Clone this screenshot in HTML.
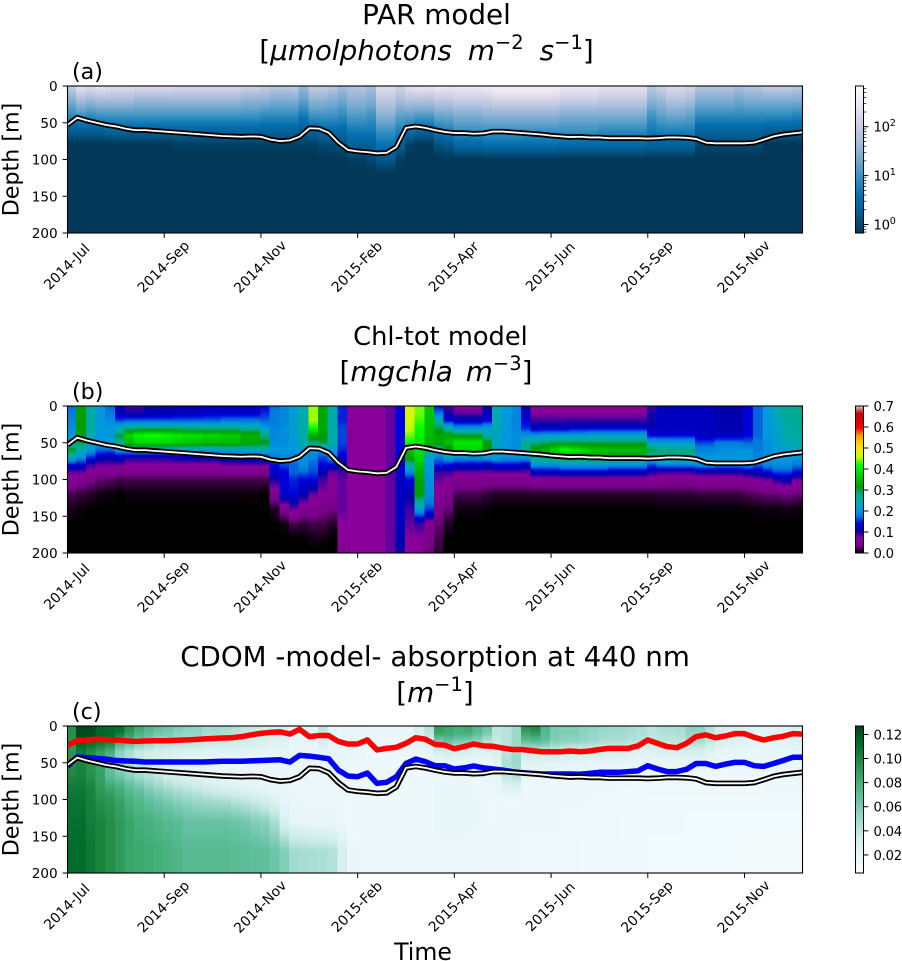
<!DOCTYPE html>
<html lang="en">
<head>
<meta charset="utf-8">
<title>PAR, Chl-tot and CDOM model depth sections</title>
<style>
html,body{margin:0;padding:0;background:#fff;}
svg{display:block;font-family:"DejaVu Sans","Liberation Sans",sans-serif;}
</style>
</head>
<body>
<svg id="figure" xmlns="http://www.w3.org/2000/svg" width="902" height="961" viewBox="0 0 902 961">
  <rect x="0" y="0" width="902" height="961" fill="#fff"/>
  <defs id="defs"></defs>
  <g id="layer-cells"></g>
  <g id="layer-lines"></g>
  <g id="layer-axes"></g>

  <text x="436.5" y="24" font-size="27.8" text-anchor="middle" fill="#000">PAR model</text>
  <text x="426.5" y="60" font-size="27.8" text-anchor="middle" fill="#000">[<tspan font-style="italic">μmolphotons</tspan><tspan dx="16" font-style="italic">m</tspan><tspan dy="-11" font-size="19.5">−2</tspan><tspan dx="16" dy="11" font-style="italic">s</tspan><tspan dy="-11" font-size="19.5">−1</tspan><tspan dy="11">]</tspan></text>
  <text x="440.5" y="345" font-size="25.7" text-anchor="middle" fill="#000">Chl-tot model</text>
  <text x="436" y="381" font-size="27.8" text-anchor="middle" fill="#000">[<tspan font-style="italic">mgchla</tspan><tspan dx="13" font-style="italic">m</tspan><tspan dy="-11" font-size="19.5">−3</tspan><tspan dy="11">]</tspan></text>
  <text x="435" y="666" font-size="27.7" text-anchor="middle" fill="#000">CDOM -model- absorption at 440 nm</text>
  <text x="435" y="702" font-size="27.8" text-anchor="middle" fill="#000">[<tspan font-style="italic">m</tspan><tspan dy="-11" font-size="19.5">−1</tspan><tspan dy="11">]</tspan></text>

  <text x="72" y="79" font-size="22.2" fill="#000">(a)</text>
  <text x="72" y="399" font-size="22.2" fill="#000">(b)</text>
  <text x="72" y="719" font-size="22.2" fill="#000">(c)</text>

  <text transform="translate(18.5 159.5) rotate(-90)" font-size="22.2" text-anchor="middle" fill="#000">Depth [m]</text>
  <text transform="translate(18.5 479.5) rotate(-90)" font-size="22.2" text-anchor="middle" fill="#000">Depth [m]</text>
  <text transform="translate(18.5 799.5) rotate(-90)" font-size="22.2" text-anchor="middle" fill="#000">Depth [m]</text>
  <text x="423" y="960" font-size="23.6" text-anchor="middle" fill="#000">Time</text>
</svg>

<script>
// ---------- axis data ----------
const timeTickIndex = [0, 10, 20, 30, 40, 50, 60, 70];
const timeTickLabels = ['2014-Jul', '2014-Sep', '2014-Nov', '2015-Feb', '2015-Apr', '2015-Jun', '2015-Sep', '2015-Nov'];
const depthTicks = [0, 50, 100, 150, 200];

// ---------- line series, depth in metres ----------
const mixedLayerDepth = [53,43,47,50,53,55,58,60,60,61,62,63,64,65,66,67,68,68.5,69,68.5,69,73,75,74,69,57.5,58,63.5,77,87,89,90,91.6,91,83,57,55,57,60,62.5,64,64,65,64.4,62,62,63,64,65,66,67.5,68.5,69.5,69,70,70,71,71,71,71,71.5,71,70,70,70.5,72,77,78,78,78,78,77,73,68.5,66,64.5,63];
const cdomBlueDepth = [55,42,43,44,45,47,47.6,48,49,49,49,49,49,49,49,48.5,48,48,48,47.5,47,46.5,46,49,40,41,42.6,44.5,60,68,69,64,78,76.6,69,51,45,48.5,54,54,58.5,57,54.4,57,58.5,60,62,63.5,64.5,65.3,65.3,65.3,65.3,65.7,64.5,63,63,63,62,61,54,58.5,62,62,59,51,51,55,52,49.5,49.5,54,55,51,47,42.6,42.6];
const cdomRedDepth = [26,20,19,18,18.6,19,20,21,20.4,20,20,19.5,19,18.6,17.7,17,16.3,16,14.5,12,10,8.6,8,11,4.5,14.5,13,13,21,24.5,24.5,19,32.6,30.4,29,23.6,16,18,25,26,31,28,24.5,27,27.6,30,32,32,33.5,35,35,35,34,35,34,32,30.4,30.4,30.4,27,19,23.6,28,29.5,23.6,14.5,12,16,13.6,10.4,10.4,15.4,19,16,14,10.4,11];

// ---------- PAR: log10(umol photons m-2 s-1) per time column ----------
const parDepthLevels = [0,20,40,60,80,100,120,200];
const parLog10 = [
[2,1.4,.9,.3,-.2,-.2,-.2,-.2],[2.4,1.7,1,.3,-.2,-.2,-.2,-.2],[2.3,1.6,.9,.3,-.2,-.2,-.2,-.2],[2.4,1.7,1,.3,-.2,-.2,-.2,-.2],
[2.3,1.7,1,.4,-.2,-.2,-.2,-.2],[2.3,1.7,1,.4,-.2,-.2,-.2,-.2],[2.3,1.7,1,.4,-.2,-.2,-.2,-.2],[2.25,1.6,1,.4,-.2,-.2,-.2,-.2],
[2.25,1.6,1,.4,-.2,-.2,-.2,-.2],[2.25,1.6,1,.4,-.2,-.2,-.2,-.2],[2.25,1.6,1,.4,-.2,-.2,-.2,-.2],[2.2,1.6,1,.4,-.1,-.2,-.2,-.2],
[2.2,1.6,1,.4,-.1,-.2,-.2,-.2],[2.2,1.6,1,.4,-.1,-.2,-.2,-.2],[2.2,1.6,1,.4,-.1,-.2,-.2,-.2],[2.2,1.6,1,.4,-.1,-.2,-.2,-.2],
[2.2,1.6,1,.4,-.1,-.2,-.2,-.2],[2.2,1.6,1,.4,-.1,-.2,-.2,-.2],[2.1,1.5,1,.4,-.1,-.2,-.2,-.2],[2.1,1.5,1,.4,-.1,-.2,-.2,-.2],
[2,1.5,.9,.4,-.1,-.2,-.2,-.2],[1.9,1.4,.9,.4,-.1,-.2,-.2,-.2],[1.9,1.4,.9,.4,-.1,-.2,-.2,-.2],[1.95,1.4,.9,.4,-.1,-.2,-.2,-.2],
[1.6,1.2,.7,.3,-.1,-.2,-.2,-.2],[2,1.5,1,.4,-.1,-.2,-.2,-.2],[2,1.5,1,.5,0,-.2,-.2,-.2],[1.9,1.4,1,.5,.05,-.2,-.2,-.2],
[1.7,1.3,.9,.5,.1,-.2,-.2,-.2],[1.85,1.5,1.1,.7,.3,-.1,-.2,-.2],[1.85,1.5,1.1,.7,.3,-.1,-.2,-.2],[1.7,1.4,1,.7,.3,0,-.2,-.2],
[2.3,1.9,1.5,1,.6,.2,-.2,-.2],[2.3,1.9,1.5,1,.6,.2,-.2,-.2],[2.1,1.7,1.2,.8,.3,-.1,-.2,-.2],[2.35,1.8,1.2,.6,-.1,-.2,-.2,-.2],
[2.45,1.8,1.1,.4,-.2,-.2,-.2,-.2],[2.4,1.8,1.1,.4,-.2,-.2,-.2,-.2],[2.5,1.9,1.3,.7,.1,-.2,-.2,-.2],[2.45,1.9,1.3,.8,.2,-.2,-.2,-.2],
[2.5,2,1.4,1,.45,-.2,-.2,-.2],[2.5,2,1.4,1,.45,-.2,-.2,-.2],[2.5,2,1.4,1,.45,-.2,-.2,-.2],[2.55,2,1.5,1,.55,-.2,-.2,-.2],
[2.65,2.1,1.5,1,.55,-.2,-.2,-.2],[2.65,2.1,1.5,1,.55,-.2,-.2,-.2],[2.65,2.1,1.5,1,.55,-.2,-.2,-.2],[2.65,2.1,1.5,1,.55,-.2,-.2,-.2],
[2.65,2.1,1.5,1,.55,-.2,-.2,-.2],[2.65,2.1,1.5,1,.55,-.2,-.2,-.2],[2.65,2.1,1.5,1,.55,-.2,-.2,-.2],[2.5,2,1.4,1,.45,-.2,-.2,-.2],
[2.5,2,1.4,1,.45,-.2,-.2,-.2],[2.5,2,1.4,1,.45,-.2,-.2,-.2],[2.5,2,1.4,1,.45,-.2,-.2,-.2],[2.4,1.9,1.4,.9,.45,-.2,-.2,-.2],
[2.4,1.9,1.4,.9,.45,-.2,-.2,-.2],[2.4,1.9,1.4,.9,.45,-.2,-.2,-.2],[2.4,1.9,1.4,.9,.45,-.2,-.2,-.2],[2.4,1.9,1.4,.9,.45,-.2,-.2,-.2],
[1.9,1.5,1,.7,.35,-.2,-.2,-.2],[2.1,1.6,1.2,.8,.35,-.2,-.2,-.2],[2.25,1.8,1.3,.8,.35,-.2,-.2,-.2],[2.25,1.8,1.3,.8,.35,-.2,-.2,-.2],
[2.15,1.7,1.2,.8,.35,-.2,-.2,-.2],[1.85,1.4,.9,.4,0,-.2,-.2,-.2],[1.85,1.4,.9,.4,0,-.2,-.2,-.2],[1.85,1.4,.9,.4,0,-.2,-.2,-.2],
[1.85,1.4,.9,.4,0,-.2,-.2,-.2],[1.75,1.3,.9,.4,0,-.2,-.2,-.2],[1.85,1.4,.9,.4,0,-.2,-.2,-.2],[1.85,1.4,.9,.4,0,-.2,-.2,-.2],
[2,1.4,.9,.3,-.2,-.2,-.2,-.2],[2,1.4,.9,.3,-.2,-.2,-.2,-.2],[2,1.4,.9,.3,-.2,-.2,-.2,-.2],[1.9,1.4,.8,.3,-.2,-.2,-.2,-.2]
];

// ---------- Chl-tot: hundredths of mg chla m-3 per time column ----------
const chlDepthLevels = [0,10,20,30,40,50,60,70,80,90,100,120,140,160,180,200];
const chlCenti = [
[17,18,19,20,21,25,31,24,14,8,6,2,.7,0,0,0],[32,32,32,32,32,30,24,20,13,8,5,1.5,.3,0,0,0],[25,25,25,25,24,23,21,15,9,6.5,4,1,0,0,0,0],[21,21,21,21,21,21,17,12,8,5.5,3,.5,0,0,0,0],
[17,18,20,21,21,21,17,11,8,5,2.5,.2,0,0,0,0],[11,12,16,24,30,27,20,12,8,4.5,2,0,0,0,0,0],[9,10,17,27,38,35,22,10,7,4.5,2,.3,0,0,0,0],[9,10,17,28,41,38,22,10,7,4.5,2,.3,0,0,0,0],
[10,11,17,28,42,38,22,10,7,4.5,2,.3,0,0,0,0],[10,11,17,28,42,38,22,10,7,4.5,2,.3,0,0,0,0],[10,11,17,28,41,38,22,10,7,4.5,2,.3,0,0,0,0],[11,12,17,28,40,37,22,11,7,4.5,2,.3,0,0,0,0],
[11,12,17,27,39,36,22,11,7,4.5,2,.3,0,0,0,0],[11,12,17,27,39,36,22,11,7,4.5,2,.3,0,0,0,0],[12,13,17,27,38,35,22,11,7,4.5,2,.3,0,0,0,0],[12,13,17,27,38,35,22,11,7,4.5,2,.3,0,0,0,0],
[12,13,18,27,37,35,23,12,8,4.5,2,.3,0,0,0,0],[12,13,18,27,37,35,23,12,8,4.5,2,.3,0,0,0,0],[12,13,18,26,34,33,24,13,8,4.5,2,.3,0,0,0,0],[12,13,18,26,34,33,24,13,8,4.5,2,.3,0,0,0,0],
[14,15,17,21,28,31,25,14,8,4.5,2,0,0,0,0,0],[17,18,18,19,19,20,21,18,14,12,10,5,1,0,0,0],[19,19,19,20,20,20,21,19,16,14,14,13,5,.5,0,0],[21,21,22,22,22,21,21,18,17,17,15,14,8,2,0,0],
[25,25,25,25,25,25,21,20,20,17,14,11,5.5,1.5,0,0],[45,45,45,42,34,28,21,18,17,16,14,8,5,2,.5,0],[33,33,33,33,32,30,20,16,14,11,9,7,4,2,.5,0],[25,25,25,25,25,25,21,19,14,8,7,5.5,3.5,1,0,0],
[15,15,15,16,16,16,15,13,11,9,8,8,8,7,7,5],[7,7,7,7,7,7,7,7,7,7,7,7,7,7,7,7],[7,7,7,7,7,7,7,7,7,7,7,7,7,7,7,7],[7,7,7,7,7,7,7,7,7,7,7,7,7,7,7,7],
[7,7,7,7,7,7,7,7,7,7,7,7,7,7,7,7],[8,8,8,8,8,8,8,8,8,8,8,8,8,8,8,8],[14,14,14,14,14,14,14,14,13,13,12,12,12,12,11,10],[48,48,47,46,44,42,36,33,26,19,14,11,9,8,7,7],
[44,44,43,42,41,40,39,38,36,34,33,32,22,9,7,6],[36,36,36,35,35,34,30,21,21,21,20,20,16,6,4,3],[14,18,25,30,33,33,25,18,15,9,8,6,4.5,3,2,1.5],[9,10,14,24,33,36,30,22,14,9,7,4.5,3,1,0,0],
[7,8,12,20,31,40,37,20,13,8,5.5,2,.4,0,0,0],[7,8,12,20,31,40,37,20,13,8,5.5,2,.4,0,0,0],[7,8,12,20,31,40,37,20,13,8,5.5,2,.4,0,0,0],[10,11,14,21,25,32,32,21,12,8,5,1.5,.2,0,0,0],
[24,24,24,24,23,23,22,21,14,8,5,1,0,0,0,0],[21,21,21,21,21,21,21,20,14,8,5,1,0,0,0,0],[19,19,19,19,20,20,20,20,14,8,5,1,0,0,0,0],[10,12,14,15,20,27,26,21,12,8,5,1,0,0,0,0],
[7,7,9,12,20,28,33,28,20,12,6,1,0,0,0,0],[7,7,9,12,21,29,34,29,20,12,6,1,0,0,0,0],[7,7,9,12,21,30,38,30,20,12,6,1,0,0,0,0],[7,7,9,12,21,30,42,32,21,13,6,1,0,0,0,0],
[7,7,9,13,21,30,40,32,21,13,6,1,0,0,0,0],[7,7,9,13,21,30,38,32,21,13,6,1,0,0,0,0],[7,7,9,13,22,30,36,33,21,13,6,1,0,0,0,0],[7,7,9,13,22,30,36,33,21,13,6,1,0,0,0,0],
[7,7,9,13,22,30,35,32,20,12,6,1,0,0,0,0],[7,7,9,13,22,30,35,32,20,12,6,1,0,0,0,0],[7,7,9,13,22,30,35,32,20,12,6,1,0,0,0,0],[7,7,9,13,22,30,35,32,20,12,6,1,0,0,0,0],
[9,10,10,11,14,22,30,25,16,10,6,1,0,0,0,0],[12,12,12,12,14,21,28,28,19,9,5.5,1.2,.2,0,0,0],[12,12,12,12,14,21,28,28,19,9,5.5,1.2,.2,0,0,0],[12,12,12,12,14,21,28,28,19,9,5.5,1.2,.2,0,0,0],
[12,12,12,12,14,21,28,28,19,9,5.5,1.2,.2,0,0,0],[12,12,12,12,12,16,19,21,20,10,6,1.5,.2,0,0,0],[12,12,12,12,12,16,19,21,20,10,6,1.5,.2,0,0,0],[11,11,11,11,12,18,20,21,19,10,6,1.5,.2,0,0,0],
[11,11,11,11,12,18,20,21,19,10,6,1.5,.2,0,0,0],[11,11,11,11,12,18,20,21,19,10,6,1.5,.2,0,0,0],[14,14,14,14,14,17,20,21,20,11,6.5,2,.2,0,0,0],[17,17,17,17,17,18,18,19,17,12,7.5,2.5,.3,0,0,0],
[21,21,21,21,21,20,20,20,19,14,8,3,.3,0,0,0],[24,24,23,23,22,22,21,21,20,16,10,3,.3,0,0,0],[26,26,26,25,25,24,22,21,20,16,11,3.5,.5,0,0,0],[27,27,27,26,26,25,23,21,18,14,8,3,.3,0,0,0]
];

// ---------- CDOM: absorption in 1/1000 m-1 per time column ----------
const cdomDepthLevels = [0,10,20,35,50,70,85,105,130,170,200];
const cdomMilli = [
[95,95,92,92,95,100,105,108,110,112,112],[125,125,118,105,100,102,105,108,110,112,112],[125,125,115,97,92,95,100,102,104,106,106],[115,115,110,88,85,87,90,95,100,100,100],
[112,112,105,80,65,72,85,92,95,95,95],[112,105,85,55,52,65,80,87,90,90,90],[95,90,75,45,45,57,70,80,85,85,85],[85,78,65,38,38,50,65,75,80,84,84],
[75,70,58,33,31,45,58,70,78,82,82],[70,62,50,31,26,40,52,66,75,80,80],[65,60,50,29,23,34,48,62,72,78,78],[60,55,47,28,21,31,44,58,70,75,75],
[56,52,45,26,20,28,40,55,66,72,72],[55,52,45,26,20,26,37,52,66,72,72],[50,47,40,24,18,23,34,50,66,72,72],[50,47,40,23,17,21,31,49,66,72,72],
[48,45,38,23,17,19,28,48,66,72,72],[45,42,35,23,17,18,26,45,64,71,71],[40,38,33,22,17,17,24,42,62,70,70],[38,36,30,22,17,17,22,38,58,69,69],
[35,33,30,21,17,17,20,33,55,68,68],[30,29,26,21,17,17,18,28,46,64,64],[30,28,25,20,17,16,16,20,27,58,58],[20,20,20,18,16,15,15,16,20,48,48],
[20,20,20,18,16,15,15,15,18,47,47],[20,20,20,18,16,15,15,15,17,46,46],[40,38,32,20,17,15,15,15,17,45,45],[22,22,20,18,16,15,15,15,16,43,43],
[18,18,18,17,16,15,15,15,15,28,28],[18,18,17,16,15,14,14,14,14,16,16],[18,18,17,16,15,14,14,14,14,15,15],[17,17,16,15,14,14,14,14,14,14,14],
[16,16,15,15,14,14,14,14,14,14,14],[16,16,15,15,14,14,14,14,14,14,14],[17,17,16,15,14,13,13,13,13,14,14],[18,18,17,16,14,13,13,13,13,13,13],
[30,28,25,17,15,14,14,14,14,14,14],[42,40,32,20,16,14,14,14,14,14,14],[90,85,62,30,18,15,16,17,17,14,14],[85,82,68,32,19,15,16,18,18,14,14],
[80,78,62,30,19,16,16,17,18,14,14],[85,80,60,28,18,16,16,17,17,14,14],[75,70,55,26,17,15,15,16,16,13,13],[65,60,45,25,17,15,15,15,15,13,13],
[40,40,38,28,22,18,16,14,14,13,13],[42,42,42,40,45,38,22,14,13,13,13],[50,50,50,48,50,42,24,14,13,13,13],[95,85,70,35,25,18,14,13,13,12,12],
[100,90,72,40,24,17,14,13,13,12,12],[75,73,68,38,24,17,14,13,13,12,12],[60,60,58,35,24,16,14,13,13,12,12],[58,58,55,32,22,15,14,13,12,12,12],
[58,58,55,30,22,15,13,13,12,12,12],[55,55,52,30,22,15,13,13,12,11,11],[55,52,50,30,21,14,13,12,12,11,11],[52,50,46,30,20,14,13,12,12,11,11],
[50,48,45,29,20,14,13,12,12,11,11],[50,48,45,28,19,14,12,12,11,11,11],[48,46,43,27,19,14,12,12,11,11,11],[46,44,42,26,18,13,12,12,11,11,11],
[40,40,38,25,18,13,12,11,11,10,10],[45,43,40,28,18,13,12,11,11,10,10],[46,44,40,28,18,13,12,11,11,10,10],[48,45,41,28,18,13,12,11,11,10,10],
[55,52,48,30,20,13,12,11,10,10,10],[55,52,48,30,20,13,12,11,10,10,10],[45,42,40,25,17,13,12,11,10,10,10],[32,32,30,20,15,13,12,11,10,10,10],
[30,30,28,20,15,13,12,11,10,10,10],[28,28,26,19,15,13,12,11,10,9,9],[25,25,24,19,15,13,12,11,10,9,9],[22,22,21,18,14,13,12,11,10,9,9],
[22,22,21,18,15,14,13,11,10,9,9],[24,24,23,19,16,15,13,11,10,9,9],[26,26,24,19,16,15,13,11,10,9,9],[30,30,26,20,17,16,13,11,10,9,9]
];

// ---------- colour bar ticks ----------
const parBarMajorTicks = [0, 1, 2];
const parBarMinorTicks = [.7,.8,.9,2,3,4,5,6,7,8,9,20,30,40,50,60,70,80,90,200,300,400,500,600];
const chlBarTicks = [0, .1, .2, .3, .4, .5, .6, .7];
const chlBarTickLabels = ['0.0','0.1','0.2','0.3','0.4','0.5','0.6','0.7'];
const cdomBarTicks = [.02, .04, .06, .08, .10, .12];
const cdomBarTickLabels = ['0.02','0.04','0.06','0.08','0.10','0.12'];

// ---------- colour maps ----------
const puBuReversed = ['#023858','#045a8d','#0570b0','#3690c0','#74a9cf','#a6bddb','#d0d1e6','#ece7f2','#fff7fb'];
const buGn = ['#f7fcfd','#e5f5f9','#ccece6','#99d8c9','#66c2a4','#41ae76','#238b45','#006d2c','#00441b'];
const nipySpectral = ['#000000','#770088','#880099','#0000aa','#0000dd','#0077dd','#0099dd','#00aaaa','#00aa88','#009900','#00bb00','#00dd00','#00ff00','#bbff00','#eeee00','#ffcc00','#ff9900','#ff0000','#dd0000','#cc0000','#cccccc'];

function hexToRgb(h){return [parseInt(h.substr(1,2),16),parseInt(h.substr(3,2),16),parseInt(h.substr(5,2),16)];}
function sampleMap(map,t){
  t=Math.max(0,Math.min(1,t));
  const p=t*(map.length-1),k=Math.min(map.length-2,Math.floor(p)),f=p-k;
  const a=hexToRgb(map[k]),b=hexToRgb(map[k+1]);
  return 'rgb('+Math.round(a[0]+(b[0]-a[0])*f)+','+Math.round(a[1]+(b[1]-a[1])*f)+','+Math.round(a[2]+(b[2]-a[2])*f)+')';
}

// ---------- scales ----------
const axisLeft=67.5, axisRight=802.5, axisHeight=147, maxDepth=200, barLeft=855.5, barRight=863.5;
function xScale(i){return axisLeft+i*(axisRight-axisLeft)/76;}
function depthScale(top,d){return top+d*axisHeight/maxDepth;}
function parNorm(v){return (v+0.174)/3.007;}
function chlNorm(v){return v/100/0.7;}
function cdomNorm(v){return (v/1000-0.005)/0.122;}

const NS='http://www.w3.org/2000/svg';
const defs=document.getElementById('defs');
const cellLayer=document.getElementById('layer-cells');
const lineLayer=document.getElementById('layer-lines');
const axesLayer=document.getElementById('layer-axes');
function make(tag,attrs,parent){
  const el=document.createElementNS(NS,tag);
  for(const k in attrs){el.setAttribute(k,attrs[k]);}
  if(parent){parent.appendChild(el);}
  return el;
}
function valueAt(levels,row,d){
  for(let k=0;k<levels.length-1;k++){
    if(d<=levels[k+1]){
      const f=(d-levels[k])/(levels[k+1]-levels[k]);
      return row[k]+(row[k+1]-row[k])*f;
    }
  }
  return row[row.length-1];
}

function drawHeatmap(key,top,levels,matrix,map,norm,step){
  matrix.forEach(function(row,i){
    const g=make('linearGradient',{id:key+'-col-'+i,x1:0,y1:0,x2:0,y2:1},defs);
    for(let d=0;d<=maxDepth;d+=step){
      make('stop',{offset:d/maxDepth,'stop-color':sampleMap(map,norm(valueAt(levels,row,d)))},g);
    }
    const left=i===0?axisLeft:xScale(i)-1;
    const right=i===matrix.length-1?axisRight:xScale(i+1)-1;
    const el=make('rect',{x:left,y:top,width:right-left,height:axisHeight,fill:'url(#'+key+'-col-'+i+')','shape-rendering':'crispEdges'},cellLayer);
    
    
  });
}

function drawLine(top,series,color,width){
  const pts=series.map(function(d,i){return xScale(i)+','+depthScale(top,d);}).join(' ');
  return make('polyline',{points:pts,fill:'none',stroke:color,'stroke-width':width,'stroke-linejoin':'round','stroke-linecap':'butt','clip-path':'url(#clip-'+top+')'},lineLayer);
}

function drawAxes(top){
  const bottom=top+axisHeight;
  const clip=make('clipPath',{id:'clip-'+top},defs);
  make('rect',{x:axisLeft,y:top,width:axisRight-axisLeft,height:axisHeight},clip);
  depthTicks.forEach(function(d){
    const y=depthScale(top,d);
    const tick=make('line',{x1:axisLeft-4.9,x2:axisLeft,y1:y,y2:y,stroke:'#000','stroke-width':1},axesLayer);
    
    
    const label=make('text',{x:axisLeft-9.8,y:y+5,'font-size':13.6,'text-anchor':'end',fill:'#000'},axesLayer);
    
    
    label.textContent=String(d);
  });
  timeTickIndex.forEach(function(idx,n){
    const x=xScale(idx);
    const tick=make('line',{x1:x,x2:x,y1:bottom,y2:bottom+4.9,stroke:'#000','stroke-width':1},axesLayer);
    
    
    const label=make('text',{transform:'translate('+(x-1)+' '+(bottom+33.5)+') rotate(-45)','font-size':13.9,'text-anchor':'middle',fill:'#000',dy:'5'},axesLayer);
    
    
    label.textContent=timeTickLabels[n];
  });
  const frame=make('rect',{x:axisLeft,y:top,width:axisRight-axisLeft,height:axisHeight,fill:'none',stroke:'#000','stroke-width':1.1},axesLayer);
  
  
}

function drawColorbar(key,top,map){
  const g=make('linearGradient',{id:key+'-bar',x1:0,y1:1,x2:0,y2:0},defs);
  for(let k=0;k<=120;k++){
    make('stop',{offset:k/120,'stop-color':sampleMap(map,k/120)},g);
  }
  const bar=make('rect',{x:barLeft,y:top,width:barRight-barLeft,height:axisHeight,fill:'url(#'+key+'-bar)',stroke:'#000','stroke-width':1},axesLayer);
  
  
}
function barTick(y,len){
  const tick=make('line',{x1:barRight,x2:barRight+len,y1:y,y2:y,stroke:'#000','stroke-width':len>3?1:.7},axesLayer);
  
  
}
function barLabel(y,text){
  const label=make('text',{x:barRight+10,y:y+5,'font-size':13.2,'letter-spacing':'-0.25',fill:'#000'},axesLayer);
  
  
  label.textContent=text;
  return label;
}

// ---------- panels ----------
const topPar=86, topChl=406, topCdom=726;
drawHeatmap('par',topPar,parDepthLevels,parLog10,puBuReversed,parNorm,2.5);
drawHeatmap('chl',topChl,chlDepthLevels,chlCenti,nipySpectral,chlNorm,2.5);
drawHeatmap('cdom',topCdom,cdomDepthLevels,cdomMilli,buGn,cdomNorm,5);

[topPar,topChl,topCdom].forEach(drawAxes);

const redLine=drawLine(topCdom,cdomRedDepth,'#ff0000',5.5);


const blueLine=drawLine(topCdom,cdomBlueDepth,'#0000ff',5.5);


[topPar,topChl,topCdom].forEach(function(top){
  const outer=drawLine(top,mixedLayerDepth,'#000000',5.5);
  
  
  const inner=drawLine(top,mixedLayerDepth,'#ffffff',1.8);
  
  
});

// ---------- colour bars ----------
drawColorbar('par',topPar,puBuReversed);
drawColorbar('chl',topChl,nipySpectral);
drawColorbar('cdom',topCdom,buGn);

parBarMajorTicks.forEach(function(p){
  const y=topPar+axisHeight-parNorm(p)*axisHeight;
  barTick(y,4.9);
  const label=barLabel(y,'10');
  const sup=make('tspan',{dy:-5.5,'font-size':9.7},label);
  sup.textContent=String(p);
});
parBarMinorTicks.forEach(function(v){
  barTick(topPar+axisHeight-parNorm(Math.log10(v))*axisHeight,2.8);
});
chlBarTicks.forEach(function(v,n){
  const y=topChl+axisHeight-v/0.7*axisHeight;
  barTick(y,4.9);
  barLabel(y,chlBarTickLabels[n]);
});
cdomBarTicks.forEach(function(v,n){
  const y=topCdom+axisHeight-cdomNorm(v*1000)*axisHeight;
  barTick(y,4.9);
  barLabel(y,cdomBarTickLabels[n]);
});
</script>
</body>
</html>
